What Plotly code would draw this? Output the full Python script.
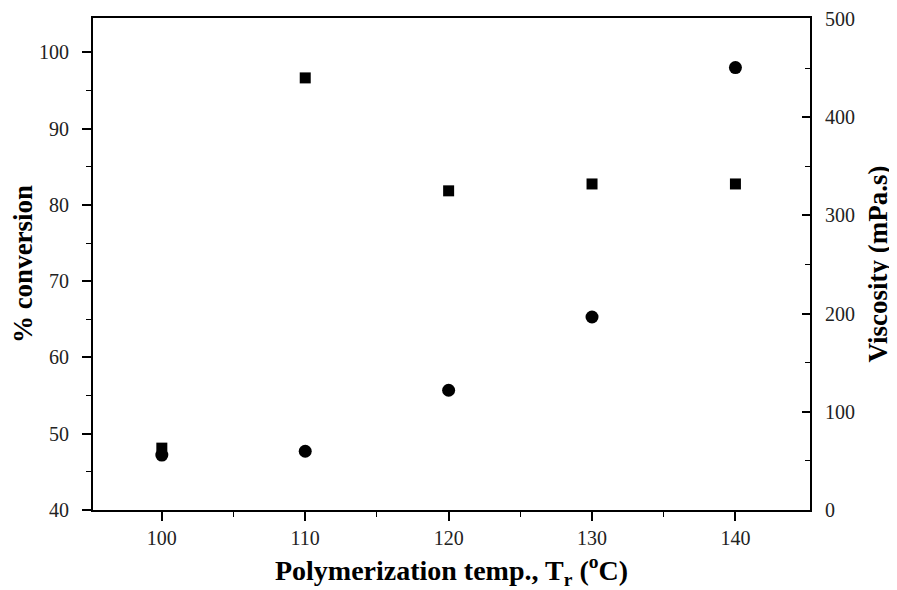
import plotly.graph_objects as go

temps = [100, 110, 120, 130, 140]
conversion = [47.2, 47.7, 55.7, 65.3, 98.0]          # circles, left axis
viscosity = [63, 440, 325, 332, 332]                   # squares, right axis

x_ticks = [100, 110, 120, 130, 140]
left_ticks = [40, 50, 60, 70, 80, 90, 100]
right_ticks = [0, 100, 200, 300, 400, 500]

font_family = "Liberation Serif"
tick_font = dict(size=20, color="#222", family=font_family)
title_font = dict(size=27, color="black", family=font_family)

fig = go.Figure()
fig.add_trace(go.Scatter(
    x=temps, y=conversion, mode="markers", name="% conversion",
    marker=dict(symbol="circle", size=13, color="black"), yaxis="y"))
fig.add_trace(go.Scatter(
    x=temps, y=viscosity, mode="markers", name="Viscosity",
    marker=dict(symbol="square", size=11, color="black"), yaxis="y2"))

# page body has an 8px default margin, so the figure is 8px smaller
fig.update_layout(
    width=889, height=582,
    margin=dict(l=85, r=87, t=10, b=80),
    paper_bgcolor="white", plot_bgcolor="white",
    showlegend=False,
    font=dict(family=font_family, color="black", size=20),
    xaxis=dict(
        range=[95.2, 145.2], tickvals=x_ticks, ticks="outside", ticklen=9, tickwidth=1.5,
        tickcolor="black", automargin=False,
        showline=True, linecolor="black", linewidth=2, mirror=True,
        showgrid=False, zeroline=False,
        tickfont=tick_font, ticklabelstandoff=0,
        minor=dict(tickvals=[105, 115, 125, 135], ticks="outside", ticklen=5, tickwidth=1.2, tickcolor="black"),
        title=dict(text="<b>Polymerization temp., T<sub>r</sub> (<sup>o</sup>C)</b>",
                   font=dict(size=28, color="black", family=font_family), standoff=31),
    ),
    yaxis=dict(
        range=[40, 104.5], tickvals=left_ticks, ticks="outside", ticklen=9, tickwidth=1.5,
        tickcolor="black", automargin=False,
        showline=True, linecolor="black", linewidth=2,
        showgrid=False, zeroline=False,
        tickfont=tick_font, ticklabelstandoff=9,
        minor=dict(tickvals=[45, 55, 65, 75, 85, 95], ticks="outside", ticklen=5, tickwidth=1.2, tickcolor="black"),
        title=dict(text="<b>% conversion</b>", font=title_font, standoff=4),
    ),
    yaxis2=dict(
        range=[0, 501], tickvals=right_ticks, ticks="inside", ticklen=8, tickwidth=1.5,
        tickcolor="black", automargin=False, ticklabeloverflow="allow",
        overlaying="y", side="right",
        showline=True, linecolor="black", linewidth=2,
        showgrid=False, zeroline=False,
        tickfont=tick_font, ticklabelstandoff=9,
        minor=dict(tickvals=[50, 150, 250, 350, 450], ticks="inside", ticklen=5, tickwidth=1.2, tickcolor="black"),
        title=dict(text="<b>Viscosity (mPa.s)</b>", font=title_font, standoff=14),
    ),
)

fig.write_html("out.html")
